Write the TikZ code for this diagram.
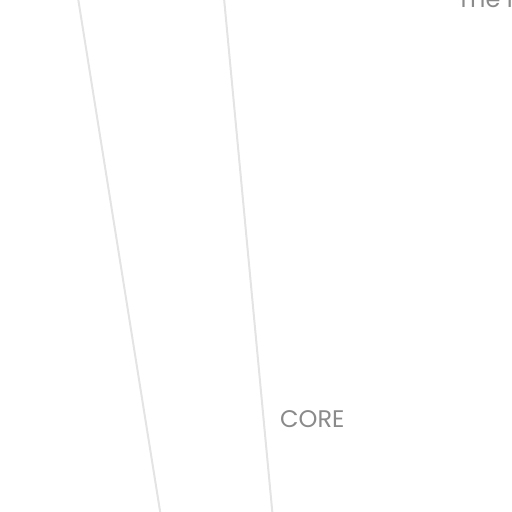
\documentclass[tikz,border=0pt]{standalone}
\usepackage{fontspec}
\setmainfont{Poppins}
\usepackage{xcolor}
\definecolor{guidegray}{HTML}{E4E4E4}
\definecolor{labelgray}{HTML}{8A8A8A}
\tikzset{guide/.style={draw=guidegray, line width=2pt},
	label text/.style={text=labelgray, inner sep=0pt, anchor=base west}}

\begin{document}
\begin{tikzpicture}[x=1pt, y=-1pt, every node/.style={font=\fontsize{24}{28}\selectfont}]
	\useasboundingbox (0,0) rectangle (512,512);
	\clip (0,0) rectangle (512,512);
	% guide lines
	\draw[guide] (78,-2) -- (160.5,514);
	\draw[guide] (224,-2) -- (272.5,514);
	% labels
	\node[label text] (core) at (280,427) {CORE};
	\node[label text] (intro) at (457,7) {The in};
\end{tikzpicture}
\end{document}
